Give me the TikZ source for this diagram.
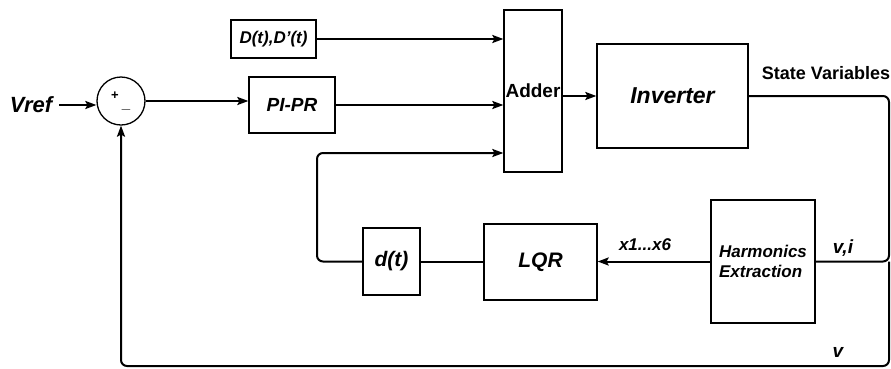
\documentclass[tikz,border=0pt]{standalone}
\usepackage{fontspec}
\setmainfont{Liberation Sans}
\usepackage{xcolor}
\usetikzlibrary{arrows.meta}

\begin{document}
\begin{tikzpicture}[x=1pt,y=-1pt,>={Stealth[length=11pt,width=8pt,inset=2pt]}]
    \tikzstyle{B}=[draw,rectangle,line width=1.3pt,inner sep=0pt]
    \tikzstyle{W}=[line width=2pt,rounded corners=6pt]
    \tikzstyle{T}=[inner sep=0pt]

    \useasboundingbox (0,0) rectangle (891,368);

    % Blocks
    \node [B,circle,minimum size=48pt] (sum) at (121,101) {};
    \node [T,font=\fontsize{13}{13}\selectfont\bfseries] (plus) at (115,96) {+};
    \node [T,font=\fontsize{15}{15}\selectfont\bfseries] (minus) at (126,109) {\_};

    \node [B,minimum width=85pt,minimum height=38pt,
           font=\fontsize{17}{20}\selectfont\bfseries\itshape] (dist) at (273.5,39) {D(t),D'(t)};
    \node [B,minimum width=86pt,minimum height=56pt,
           font=\fontsize{19}{22}\selectfont\bfseries\itshape] (pipr) at (292,105) {PI-PR};
    \node [B,minimum width=58pt,minimum height=162pt,
           font=\fontsize{19}{22}\selectfont\bfseries] (adder) at (533,91) {Adder};
    \node [B,minimum width=151pt,minimum height=104pt,
           font=\fontsize{23}{26}\selectfont\bfseries\itshape] (inv) at (672.5,96) {Inverter};
    \node [B,minimum width=104pt,minimum height=123pt,align=left,
           font=\fontsize{17}{20}\selectfont\bfseries\itshape] (harm) at (763,261.5) {Harmonics\\Extraction};
    \node [B,minimum width=113pt,minimum height=76pt,
           font=\fontsize{21}{24}\selectfont\bfseries\itshape] (lqr) at (540.5,262) {LQR};
    \node [B,minimum width=57pt,minimum height=67pt,
           font=\fontsize{21}{24}\selectfont\bfseries\itshape] (dt) at (391.5,261.5) {d(t)};

    % Labels
    \node [T,font=\fontsize{22}{24}\selectfont\bfseries\itshape] (vref) at (31,105) {Vref};
    \node [T,font=\fontsize{18}{20}\selectfont\bfseries] (sv) at (826,73) {State Variables};
    \node [T,font=\fontsize{19}{22}\selectfont\bfseries\itshape] (vi) at (843,248) {v,i};
    \node [T,font=\fontsize{17}{20}\selectfont\bfseries\itshape] (xs) at (645,245) {x1...x6};
    \node [T,font=\fontsize{19}{22}\selectfont\bfseries\itshape] (vv) at (838,352) {v};

    \coordinate (rt) at (889,0);
    \coordinate (lf) at (317,153);
    \coordinate (bt) at (0,366);

    % Forward path
    \draw [W,->] (vref.east) ++(7,0) -- (vref.east -| sum.west);
    \draw [W,->] (sum.east) -- (sum.east -| pipr.west);
    \draw [W,->] (dist.east) -- (dist.east -| adder.west);
    \draw [W,->] (pipr.east) -- (pipr.east -| adder.west);
    \draw [W,->] (adder.east |- inv.west) -- (inv.west);

    % State feedback
    \draw [W] (inv.east) -| (rt |- harm.east) -- (harm.east);
    \draw [W,->] (harm.west) -- (harm.west -| lqr.east);
    \draw [W] (lqr.west |- dt.east) -- (dt.east);
    \draw [W,->] (dt.west) -| (lf) -- (lf -| adder.west);

    % Voltage feedback
    \draw [W,->] (rt |- harm.east) |- (bt -| sum) -- (sum.south);
\end{tikzpicture}
\end{document}
